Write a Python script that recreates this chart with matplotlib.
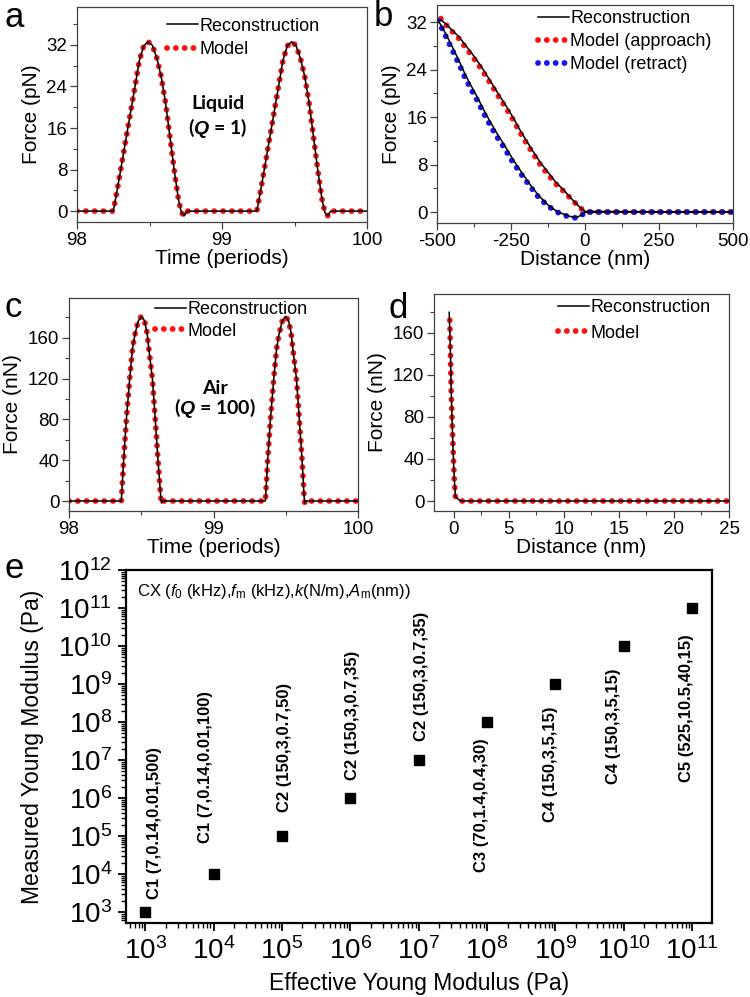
import numpy as np
import matplotlib
matplotlib.use('Agg')
import matplotlib.pyplot as plt
from matplotlib.ticker import MultipleLocator, LogLocator, FixedLocator, FuncFormatter, NullFormatter

plt.rcParams['font.family'] = ['Liberation Sans', 'DejaVu Sans']
plt.rcParams['axes.unicode_minus'] = False
plt.rcParams['mathtext.fontset'] = 'custom'
plt.rcParams['mathtext.rm'] = 'Liberation Sans'
plt.rcParams['mathtext.it'] = 'Liberation Sans:italic'
plt.rcParams['mathtext.bf'] = 'Liberation Sans:bold'
plt.rcParams['mathtext.bfit'] = 'Liberation Sans:bold:italic'

# ---- data ----
# (a) liquid, Q = 1 : force (pN) vs time (periods)
t_a = [98.00, 98.25, 98.28, 98.32, 98.36, 98.40, 98.43, 98.46, 98.49, 98.52, 98.55,
       98.58, 98.61, 98.64, 98.67, 98.70, 98.72, 98.74, 98.76,
       99.24, 99.27, 99.31, 99.35, 99.39, 99.42, 99.45, 99.48, 99.51, 99.54,
       99.57, 99.60, 99.63, 99.66, 99.69, 99.71, 99.73, 99.75, 100.00]
F_a = [0, 0, 4.5, 11.0, 17.5, 24.0, 29.0, 31.8, 32.6, 31.9, 29.5,
       26.0, 21.0, 14.5, 8.0, 2.2, -0.3, -0.9, 0,
       0, 4.5, 11.0, 17.5, 24.0, 29.0, 31.8, 32.6, 31.9, 29.5,
       26.0, 21.0, 14.5, 8.0, 2.2, -0.3, -0.9, 0, 0]

# (b) force (pN) vs distance (nm), approach and retract
x_app = [-487, -470, -450, -427, -400, -380, -350, -320, -290, -269, -240, -224,
         -200, -179, -150, -128, -100, -72, -45, -19, 0, 500]
F_app = [32.6, 31.6, 30.5, 29.3, 27.5, 26.2, 24.1, 21.7, 19.3, 17.7, 15.3, 13.8,
         11.8, 10.1, 7.9, 6.5, 4.8, 3.5, 2.1, 0.85, 0, 0]
F_app_rec = [32.4, 31.7, 30.7, 29.6, 27.9, 26.6, 24.5, 22.1, 19.7, 18.1, 15.7, 14.2,
             12.2, 10.5, 8.3, 6.9, 5.1, 3.7, 2.2, 0.9, 0.1, 0]
x_ret = [-497, -484, -470, -455, -438, -420, -404, -385, -365, -343, -320, -298,
         -275, -245, -213, -185, -157, -125, -95, -75, -61, -40, -27, -12, 0, 500]
F_ret = [32.3, 31.0, 29.6, 28.0, 26.2, 24.3, 22.5, 20.7, 18.9, 16.7, 14.6, 12.7,
         11.0, 8.5, 6.2, 4.3, 2.5, 1.0, 0.0, -0.4, -0.7, -0.95, -1.0, -0.6, 0, 0]
F_ret_rec = [32.3, 31.3, 30.0, 28.5, 26.8, 24.9, 23.1, 21.3, 19.5, 17.3, 15.2, 13.3,
             11.5, 9.0, 6.6, 4.6, 2.8, 1.2, 0.1, -0.3, -0.6, -0.85, -0.9, -0.5, 0, 0]

# (c) air, Q = 100 : force (nN) vs time (periods)
t_c = [98.00, 98.362, 98.378, 98.397, 98.420, 98.440, 98.456, 98.478, 98.500, 98.522,
       98.540, 98.550, 98.577, 98.597, 98.616, 98.636, 98.640, 98.645,
       99.359, 99.375, 99.394, 99.417, 99.437, 99.453, 99.475, 99.497, 99.519,
       99.537, 99.547, 99.574, 99.594, 99.613, 99.628, 99.632, 99.640, 100.00]
F_c = [0, 0, 40, 80, 120, 150, 163, 176, 181, 177,
       165, 152, 120, 80, 40, 2, -2, 0,
       0, 40, 80, 120, 150, 163, 176, 181, 177,
       165, 152, 120, 80, 40, 2, -2, 0, 0]

# (d) force (nN) vs distance (nm)
x_d = [-0.36, -0.33, -0.30, -0.24, -0.15, -0.06, 0.03, 0.15, 0.6, 25]
F_d = [172, 155, 137.6, 105.7, 73.9, 48.4, 22.9, 3.8, 0, 0]
x_d_rec = [-0.42, -0.36, -0.30, -0.24, -0.15, -0.06, 0.03, 0.15, 0.6, 25]
F_d_rec = [179.6, 160, 138, 106, 74, 48, 23, 4, 0, 0]

# (e) measured vs effective Young modulus (Pa)
E_eff = [1e3, 1e4, 1e5, 1e6, 1e7, 1e8, 1e9, 1e10, 1e11]
E_meas = [1e3, 1e4, 1e5, 1e6, 1e7, 1e8, 1e9, 1e10, 1e11]
cant_labels = ['C1 (7,0.14,0.01,500)', 'C1 (7,0.14,0.01,100)', 'C2 (150,3,0.7,50)',
               'C2 (150,3,0.7,35)', 'C2 (150,3,0.7,35)', 'C3 (70,1.4,0.4,30)',
               'C4 (150,3,5,15)', 'C4 (150,3,5,15)', 'C5 (525,10.5,40,15)']
label_offsets = [(9, 89), (-8, 107), (3, 89), (2, 83), (3, 84),
                 (-6, -83), (-5, -80), (-10, -80), (-6, -100)]

# ---- figure ----
W, H = 750, 997
fig = plt.figure(figsize=(W / 100, H / 100), dpi=100)


def make_axes(l, t, r, b):
    return fig.add_axes([l / W, 1 - b / H, (r - l) / W, (b - t) / H])


RED = '#ff1111'
BLUE = '#1414f0'
dot_kw = dict(lw=4.2, linestyle=(0, (0.01, 1.5)), dash_capstyle='round')
REC_LW = 1.1


def style_top(ax):
    for s in ax.spines.values():
        s.set_color('#404040')
        s.set_linewidth(0.9)
    ax.tick_params(which='major', direction='out', length=5, width=0.9,
                   color='#404040', labelsize=13.5, pad=2)
    ax.tick_params(which='minor', direction='out', length=3, width=0.8, color='#404040')


def legend_top(ax, handles, labels, x, y, spacing):
    ax.legend(handles, labels, loc='upper left', bbox_to_anchor=(x, y), frameon=False,
              fontsize=13, handlelength=1.7, handletextpad=0.1, labelspacing=spacing,
              borderpad=0, borderaxespad=0)


# a
ax = make_axes(77, 7, 367, 222)
ax.plot(t_a, F_a, color=RED, label='Model', **dot_kw, zorder=2)
ax.plot(t_a, F_a, color='black', lw=REC_LW, label='Reconstruction', zorder=3)
ax.set_xlim(98, 100)
ax.set_ylim(-2.1, 39.3)
ax.xaxis.set_major_locator(MultipleLocator(1))
ax.xaxis.set_minor_locator(MultipleLocator(0.5))
ax.yaxis.set_major_locator(MultipleLocator(8))
ax.yaxis.set_minor_locator(MultipleLocator(4))
ax.set_xlabel('Time (periods)', fontsize=15, labelpad=0)
ax.set_ylabel('Force (pN)', fontsize=15, labelpad=4)
style_top(ax)
h, l = ax.get_legend_handles_labels()
legend_top(ax, h[::-1], l[::-1], 0.31, 0.95, 0.35)
ax.text(0.486, 0.553, 'Liquid', transform=ax.transAxes, ha='center', va='center',
        fontsize=14, fontweight='bold', family=['Lato', 'DejaVu Sans'])
ax.text(0.486, 0.437, r'($\mathbfit{Q}$ = 1)', transform=ax.transAxes, ha='center',
        va='center', fontsize=14, fontweight='bold', family=['Lato', 'DejaVu Sans'])

# b
ax = make_axes(437, 5, 733, 223)
ax.plot(x_app, F_app, color=RED, label='Model (approach)', **dot_kw, zorder=2)
ax.plot(x_ret, F_ret, color=BLUE, label='Model (retract)', **dot_kw, zorder=2)
ax.plot(x_app, F_app_rec, color='black', lw=REC_LW, label='Reconstruction', zorder=3)
ax.plot(x_ret, F_ret_rec, color='black', lw=REC_LW, zorder=3)
ax.set_xlim(-500, 500)
ax.set_ylim(-1.85, 34.9)
ax.xaxis.set_major_locator(MultipleLocator(250))
ax.xaxis.set_minor_locator(MultipleLocator(125))
ax.yaxis.set_major_locator(MultipleLocator(8))
ax.yaxis.set_minor_locator(MultipleLocator(4))
ax.set_xlabel('Distance (nm)', fontsize=15, labelpad=0)
ax.set_ylabel('Force (pN)', fontsize=15, labelpad=4)
style_top(ax)
h, l = ax.get_legend_handles_labels()
legend_top(ax, [h[2], h[0], h[1]], [l[2], l[0], l[1]], 0.341, 0.975, 0.33)

# c
ax = make_axes(69, 298, 358, 511)
ax.plot(t_c, F_c, color=RED, label='Model', **dot_kw, zorder=2)
ax.plot(t_c, F_c, color='black', lw=REC_LW, label='Reconstruction', zorder=3)
ax.set_xlim(98, 100)
ax.set_ylim(-9.8, 199)
ax.xaxis.set_major_locator(MultipleLocator(1))
ax.xaxis.set_minor_locator(MultipleLocator(0.5))
ax.yaxis.set_major_locator(MultipleLocator(40))
ax.yaxis.set_minor_locator(MultipleLocator(20))
ax.set_xlabel('Time (periods)', fontsize=15, labelpad=0)
ax.set_ylabel('Force (nN)', fontsize=15, labelpad=4)
style_top(ax)
h, l = ax.get_legend_handles_labels()
legend_top(ax, h[::-1], l[::-1], 0.298, 0.985, 0.25)
ax.text(0.505, 0.577, 'Air', transform=ax.transAxes, ha='center', va='center',
        fontsize=14, fontweight='bold', family=['Lato', 'DejaVu Sans'])
ax.text(0.505, 0.484, r'($\mathbfit{Q}$ = 100)', transform=ax.transAxes, ha='center',
        va='center', fontsize=14, fontweight='bold', family=['Lato', 'DejaVu Sans'])

# d
ax = make_axes(434, 294, 729, 511)
ax.plot(x_d, F_d, color=RED, label='Model', **dot_kw, zorder=2)
ax.plot(x_d_rec, F_d_rec, color='black', lw=REC_LW, label='Reconstruction', zorder=3)
ax.set_xlim(-1.8, 25)
ax.set_ylim(-9.5, 197)
ax.xaxis.set_major_locator(MultipleLocator(5))
ax.xaxis.set_minor_locator(MultipleLocator(2.5))
ax.yaxis.set_major_locator(MultipleLocator(40))
ax.yaxis.set_minor_locator(MultipleLocator(20))
ax.set_xlabel('Distance (nm)', fontsize=15, labelpad=0)
ax.set_ylabel('Force (nN)', fontsize=15, labelpad=4)
style_top(ax)
h, l = ax.get_legend_handles_labels()
legend_top(ax, h[::-1], l[::-1], 0.42, 0.975, 0.45)

# e
ax = make_axes(126, 570, 712, 923)
ax.plot(E_eff, E_meas, 's', color='black', ms=6.5, zorder=3)
ax.set_xscale('log')
ax.set_yscale('log')
ax.set_xlim(10 ** 2.72, 10 ** 11.29)
ax.set_ylim(10 ** 2.71, 1e12)
ax.xaxis.set_major_locator(FixedLocator([10.0 ** k for k in range(3, 12)]))
ax.yaxis.set_major_locator(FixedLocator([10.0 ** k for k in range(3, 13)]))
ax.xaxis.set_minor_locator(LogLocator(base=10, subs=np.arange(2, 10), numticks=50))
ax.yaxis.set_minor_locator(LogLocator(base=10, subs=np.arange(2, 10), numticks=50))
fmt = FuncFormatter(lambda v, p: r'$10^{%d}$' % int(round(np.log10(v))))
ax.xaxis.set_major_formatter(fmt)
ax.yaxis.set_major_formatter(fmt)
ax.xaxis.set_minor_formatter(NullFormatter())
ax.yaxis.set_minor_formatter(NullFormatter())
for s in ax.spines.values():
    s.set_linewidth(1.6)
ax.tick_params(which='major', direction='out', length=6, width=1.3, labelsize=20, pad=4)
ax.tick_params(which='minor', direction='out', length=3.5, width=1.0)
ax.set_xlabel('Effective Young Modulus (Pa)', fontsize=16.5, labelpad=5)
ax.set_ylabel('Measured Young Modulus (Pa)', fontsize=16.5, labelpad=10)
for xv, yv, lab, off in zip(E_eff, E_meas, cant_labels, label_offsets):
    ax.annotate(lab, xy=(xv, yv), xytext=off, textcoords='offset pixels', rotation=90,
                ha='center', va='center', fontsize=12, fontweight='bold')
ax.text(0.019, 0.94,
        r'CX ($f_0$ (kHz),$f_\mathrm{m}$ (kHz),$k$(N/m),$A_\mathrm{m}$(nm))',
        transform=ax.transAxes, ha='left', va='center', fontsize=12)

# panel letters
for letter, (px, py) in zip('abcde', [(5, 27), (374, 26), (5, 317), (388, 318), (5, 578)]):
    fig.text(px / W, 1 - py / H, letter, fontsize=25, va='baseline', ha='left')

fig.savefig('out.png', dpi=100)
